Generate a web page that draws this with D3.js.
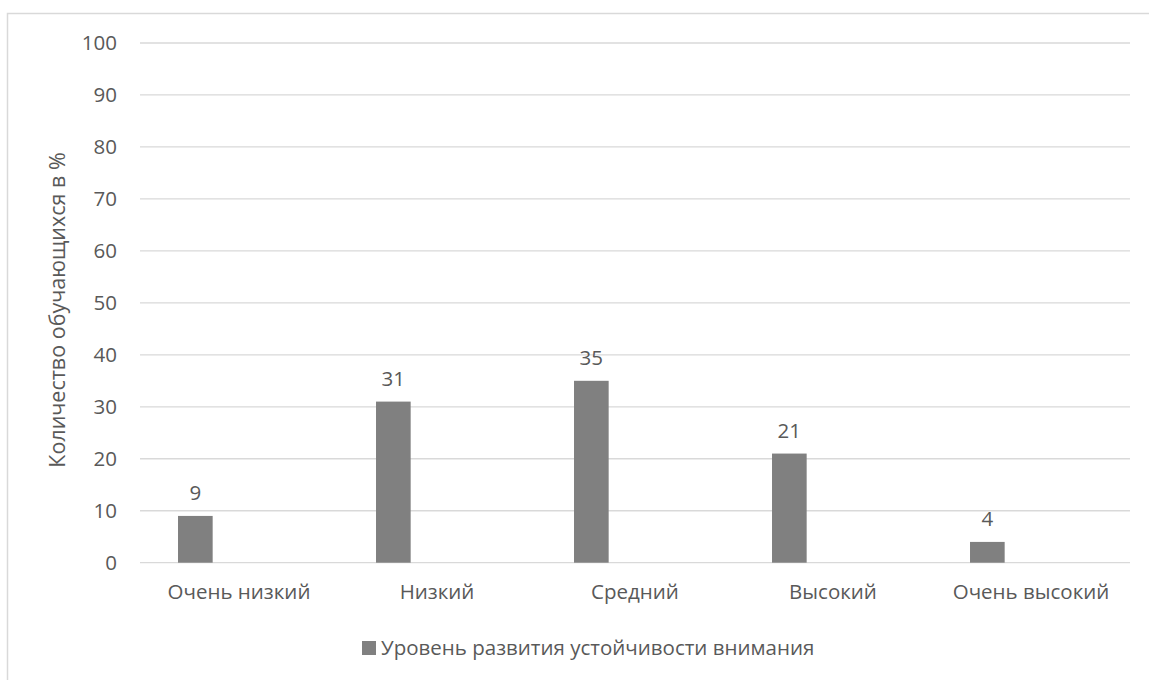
<!DOCTYPE html>
<html>
<head>
<meta charset="utf-8">
<script src="https://cdn.jsdelivr.net/npm/d3@7"></script>
<style>
  html, body { margin: 0; padding: 0; background: #fff; }
  svg { display: block; }
  text { font-family: "Open Sans", "Noto Sans", sans-serif; fill: #595959; }
</style>
</head>
<body>
<svg id="chart" width="1149" height="680"></svg>
<script>
const categories = ["Очень низкий", "Низкий", "Средний", "Высокий", "Очень высокий"];
const values = [9, 31, 35, 21, 4];
const yTicks = [0, 10, 20, 30, 40, 50, 60, 70, 80, 90, 100];
const seriesName = "Уровень развития устойчивости внимания";
const yTitle = "Количество обучающихся в %";

const svg = d3.select("#chart");
const plot = { left: 140, right: 1130, top: 43, bottom: 562.7 };

// chart frame
svg.append("rect")
  .attr("x", 7.5).attr("y", 13.5)
  .attr("width", 1300).attr("height", 1000)
  .attr("fill", "none").attr("stroke", "#d9d9d9").attr("stroke-width", 1.5);

const x = d3.scaleBand().domain(categories).range([plot.left, plot.right]).padding(0);
const y = d3.scaleLinear().domain([0, 100]).range([plot.bottom, plot.top]);

// gridlines
svg.append("g").selectAll("line").data(yTicks).join("line")
  .attr("x1", plot.left).attr("x2", plot.right)
  .attr("y1", d => y(d)).attr("y2", d => y(d))
  .attr("stroke", "#d9d9d9").attr("stroke-width", 1.3);

// y axis labels
const yAxis = d3.axisLeft(y).tickValues(yTicks).tickSize(0).tickPadding(0);
const gy = svg.append("g").attr("transform", `translate(${plot.left - 23},0)`).call(yAxis);
gy.select(".domain").remove();
gy.selectAll("text").style("font-size", "20.5px").attr("fill", "#595959")
  .style("font-family", '"Open Sans", sans-serif');

// x axis labels
const xAxis = d3.axisBottom(x).tickSize(0).tickPadding(0);
const gx = svg.append("g").attr("transform", `translate(0,${plot.bottom + 22})`).call(xAxis);
gx.select(".domain").remove();
gx.selectAll("text").style("font-size", "20.5px").attr("fill", "#595959")
  .style("font-family", '"Open Sans", sans-serif');

// bars
const step = x.step();
const barOff = step * 0.192, barW = step * 0.175;
svg.append("g").selectAll("rect").data(values).join("rect")
  .attr("x", (d, i) => x(categories[i]) + barOff)
  .attr("width", barW)
  .attr("y", d => y(d))
  .attr("height", d => y(0) - y(d))
  .attr("fill", "#808080");

// data labels
svg.append("g").selectAll("text").data(values).join("text")
  .attr("x", (d, i) => x(categories[i]) + barOff + barW / 2)
  .attr("y", d => y(d) - 16)
  .attr("text-anchor", "middle")
  .style("font-size", "20.5px")
  .attr("fill", "#404040")
  .text(d => d);

// y title
svg.append("text")
  .attr("transform", `translate(65,310) rotate(-90)`)
  .attr("text-anchor", "middle")
  .style("font-size", "21.5px")
  .text(yTitle);

// legend
const lg = svg.append("g");
lg.append("rect").attr("x", 362).attr("y", 641).attr("width", 14).attr("height", 14).attr("fill", "#808080");
lg.append("text").attr("x", 381).attr("y", 655).style("font-size", "20.5px").text(seriesName);
</script>
</body>
</html>
